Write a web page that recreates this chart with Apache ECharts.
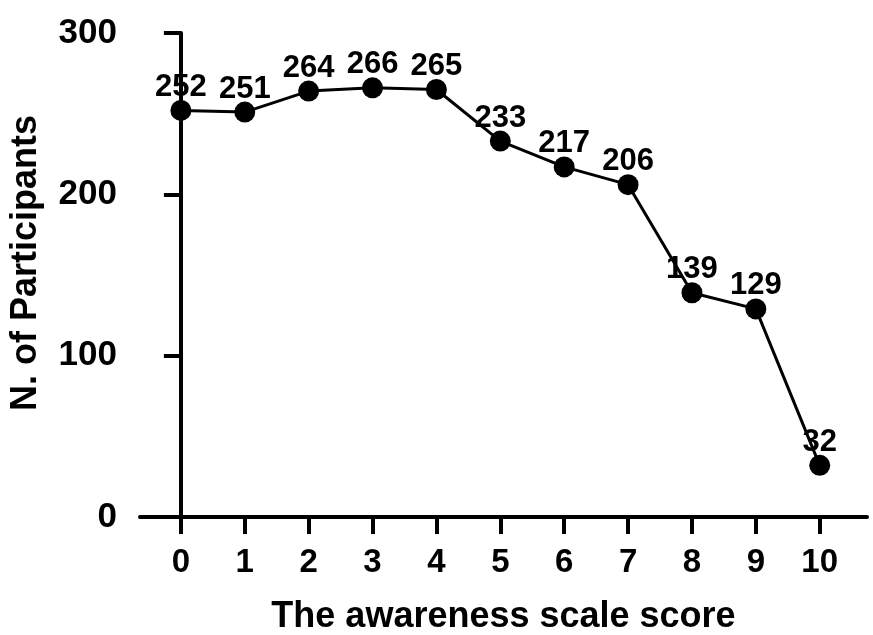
<!DOCTYPE html>
<html><head><meta charset="utf-8">
<script src="https://cdn.jsdelivr.net/npm/echarts@6/dist/echarts.min.js"></script>
<style>html,body{margin:0;padding:0;background:#fff}#c{width:873px;height:635px}</style>
</head><body><div id="c"></div>
<script>
const scores = [0, 1, 2, 3, 4, 5, 6, 7, 8, 9, 10];
const participants = [252, 251, 264, 266, 265, 233, 217, 206, 139, 129, 32];
const yTicks = [0, 100, 200, 300];
const xTitle = 'The awareness scale score';
const yTitle = 'N. of Participants';

const F = 'Liberation Sans, Arial, sans-serif';
const chart = echarts.init(document.getElementById('c'));
chart.setOption({
  animation: false,
  backgroundColor: '#fff',
  grid: { left: 140, right: 6, top: 33, bottom: 118, containLabel: false, outerBoundsMode: 'none' },
  xAxis: {
    type: 'value', min: -0.64, max: 10.74,
    name: xTitle, nameLocation: 'middle', nameGap: 82,
    nameTextStyle: { fontFamily: F, fontWeight: 'bold', fontSize: 36, color: '#000' },
    axisLine: { show: true, onZero: false, lineStyle: { color: '#000', width: 4 } },
    axisTick: { show: true, customValues: scores, length: 17, lineStyle: { color: '#000', width: 4 } },
    axisLabel: { customValues: scores, margin: 29, fontFamily: F, fontWeight: 'bold', fontSize: 33, color: '#000' },
    splitLine: { show: false }
  },
  yAxis: {
    type: 'value', min: 0, max: 300, interval: 100,
    name: yTitle, nameLocation: 'middle', nameGap: 96, nameRotate: 90,
    nameTextStyle: { fontFamily: F, fontWeight: 'bold', fontSize: 36, color: '#000', padding: [0, 0, 0, 24] },
    axisLine: { show: true, lineStyle: { color: '#000', width: 4 } },
    axisTick: { show: true, customValues: yTicks, length: 17, lineStyle: { color: '#000', width: 4 } },
    axisLabel: { customValues: yTicks, margin: 23, fontFamily: F, fontWeight: 'bold', fontSize: 35, color: '#000', padding: [5, 0, 0, 0] },
    splitLine: { show: false }
  },
  series: [{
    type: 'line',
    data: scores.map((s, i) => [s, participants[i]]),
    symbol: 'circle', symbolSize: 21,
    itemStyle: { color: '#000' },
    lineStyle: { color: '#000', width: 3 },
    label: { show: true, position: 'top', distance: -3, fontFamily: F, fontWeight: 'bold', fontSize: 31, color: '#000',
      formatter: p => String(p.value[1]) },
    z: 3
  }]
});
</script></body></html>
